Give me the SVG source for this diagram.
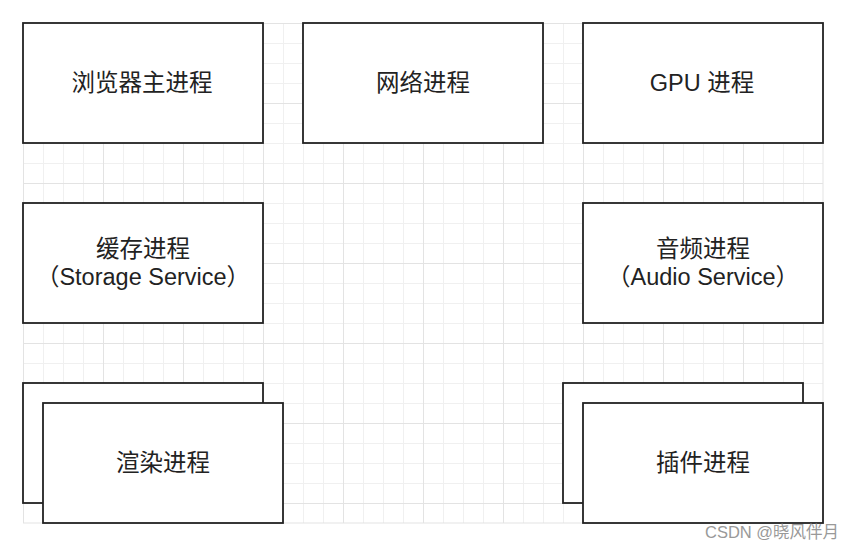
<svg xmlns="http://www.w3.org/2000/svg" width="852" height="550" viewBox="0 0 852 550">
  <defs>
    <pattern id="minor" x="23" y="23" width="20" height="20" patternUnits="userSpaceOnUse">
      <path d="M0 0.5H20M0.5 0V20" fill="none" stroke="#f0f0f0" stroke-width="1"/>
    </pattern>
    <pattern id="major" x="23" y="23" width="80" height="80" patternUnits="userSpaceOnUse">
      <path d="M0 0.5H80M0.5 0V80" fill="none" stroke="#e3e3e3" stroke-width="1"/>
    </pattern>
  </defs>
  <style>
    .box { fill: #ffffff; stroke: #222222; stroke-width: 1.8; }
    .lbl { font-family: "Liberation Sans", "Noto Sans CJK SC", sans-serif; font-size: 23.5px; fill: #222222; text-anchor: middle; dominant-baseline: central; }
    .wm { font-family: "Liberation Sans", "Noto Sans CJK SC", sans-serif; font-size: 16.5px; fill: #999999; }
  </style>
  <rect width="852" height="550" fill="#ffffff"/>
  <g id="grid">
    <rect x="23" y="23" width="800" height="500" fill="url(#minor)"/>
    <rect x="23" y="23" width="800" height="500" fill="url(#major)"/>
    <path d="M823 23V523M23 523H823" stroke="#e3e3e3" stroke-width="1" fill="none"/>
  </g>
  <g id="connectors"></g>
  <g id="browser">
    <rect class="box" x="23" y="23" width="240" height="120"/>
    <text class="lbl" x="142" y="83">浏览器主进程</text>
  </g>
  <g id="network">
    <rect class="box" x="303" y="23" width="240" height="120"/>
    <text class="lbl" x="423" y="83">网络进程</text>
  </g>
  <g id="gpu">
    <rect class="box" x="583" y="23" width="240" height="120"/>
    <text class="lbl" x="702" y="83">GPU 进程</text>
  </g>
  <g id="storage">
    <rect class="box" x="23" y="203" width="240" height="120"/>
    <text class="lbl" x="143" y="249">缓存进程</text>
    <text class="lbl" x="143" y="277">（Storage Service）</text>
  </g>
  <g id="audio">
    <rect class="box" x="583" y="203" width="240" height="120"/>
    <text class="lbl" x="703" y="249">音频进程</text>
    <text class="lbl" x="703" y="277">（Audio Service）</text>
  </g>
  <g id="renderer">
    <rect class="box" x="23" y="383" width="240" height="120"/>
    <rect class="box" x="43" y="403" width="240" height="120"/>
    <text class="lbl" x="163" y="463">渲染进程</text>
  </g>
  <g id="plugin">
    <rect class="box" x="563" y="383" width="240" height="120"/>
    <rect class="box" x="583" y="403" width="240" height="120"/>
    <text class="lbl" x="703" y="463">插件进程</text>
  </g>
  <text class="wm" x="705" y="538">CSDN @晓风伴月</text>
</svg>
